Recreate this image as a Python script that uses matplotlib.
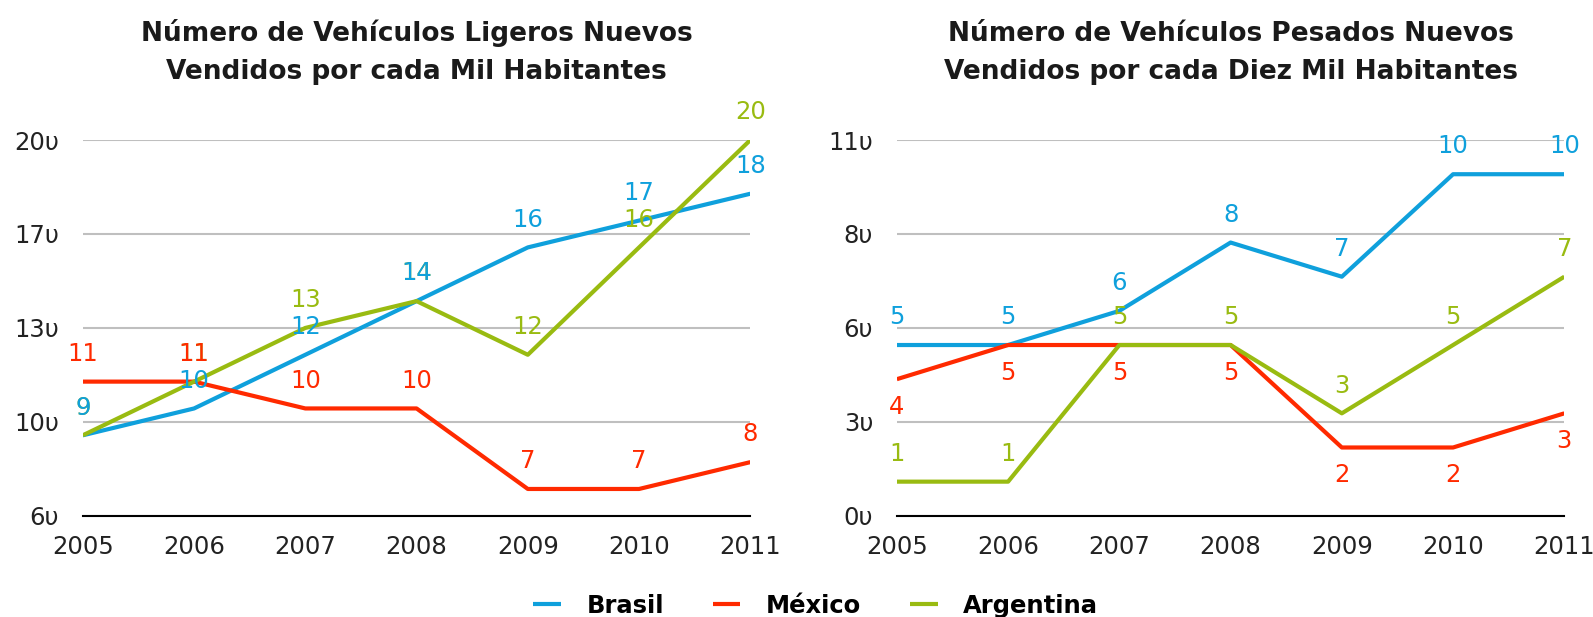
import matplotlib
matplotlib.use("Agg")
import matplotlib.pyplot as plt

plt.rcParams['font.family'] = ['DejaVu Sans']

years = [2005, 2006, 2007, 2008, 2009, 2010, 2011]
series = ["Brasil", "México", "Argentina"]
colors = {"Brasil": "#0FA0DC", "México": "#FF2A00", "Argentina": "#99BB11"}

# ligeros por cada mil habitantes
light = {
    "Brasil":    [9, 10, 12, 14, 16, 17, 18],
    "México":    [11, 11, 10, 10, 7, 7, 8],
    "Argentina": [9, 11, 13, 14, 12, 16, 20],
}
light_ticks = [6, 9.5, 13, 16.5, 20]
light_ticklabels = ["6υ", "10υ", "13υ", "17υ", "20υ"]

# pesados por cada diez mil habitantes
heavy = {
    "Brasil":    [5, 5, 6, 8, 7, 10, 10],
    "México":    [4, 5, 5, 5, 2, 2, 3],
    "Argentina": [1, 1, 5, 5, 3, 5, 7],
}
heavy_ticks = [0, 2.75, 5.5, 8.25, 11]
heavy_ticklabels = ["0υ", "3υ", "6υ", "8υ", "11υ"]

titles = ["Número de Vehículos Ligeros Nuevos\nVendidos por cada Mil Habitantes",
          "Número de Vehículos Pesados Nuevos\nVendidos por cada Diez Mil Habitantes"]

fig = plt.figure(figsize=(15.93, 6.17), dpi=100)
ax1 = fig.add_axes([0.052, 0.164, 0.419, 0.609])
ax2 = fig.add_axes([0.563, 0.164, 0.419, 0.609])


def draw(ax, data, ticks, ticklabels, title, below):
    for s in series:
        ax.plot(years, data[s], color=colors[s], lw=3, solid_capstyle='butt', label=s, zorder=3)
    # labels: Argentina first so the others sit on top
    for s in ["Argentina", "México", "Brasil"]:
        off = -20 if s in below else 20
        for x, y in zip(years, data[s]):
            ax.annotate(str(y), (x, y), xytext=(0, off), textcoords='offset points',
                        ha='center', va='center', fontsize=17.5, color=colors[s], zorder=4)
    ax.set_xlim(years[0], years[-1])
    ax.set_ylim(ticks[0], ticks[-1])
    ax.set_yticks(ticks)
    ax.set_yticklabels(ticklabels)
    ax.set_xticks(years)
    ax.tick_params(axis='both', length=0, labelsize=17.5, colors='#222222')
    ax.tick_params(axis='y', pad=17)
    ax.tick_params(axis='x', pad=14)
    ax.grid(axis='y', color='#BFBFBF', lw=1.5)
    ax.set_axisbelow(True)
    for sp in ['top', 'right', 'left']:
        ax.spines[sp].set_visible(False)
    ax.spines['bottom'].set_color('black')
    ax.spines['bottom'].set_linewidth(1.5)
    ax.set_title(title, fontsize=19, fontweight='bold', pad=44, linespacing=1.6, color='#1a1a1a')


draw(ax1, light, light_ticks, light_ticklabels, titles[0], below=[])
draw(ax2, heavy, heavy_ticks, heavy_ticklabels, titles[1], below=["México"])

handles, labels = ax1.get_legend_handles_labels()
fig.legend(handles, labels, loc='lower center', bbox_to_anchor=(0.512, -0.037), ncol=3,
           frameon=False, handlelength=1.15, columnspacing=2.0, handletextpad=1.05,
           prop={'weight': 'bold', 'size': 17.5})

fig.savefig('out.png', dpi=100)
